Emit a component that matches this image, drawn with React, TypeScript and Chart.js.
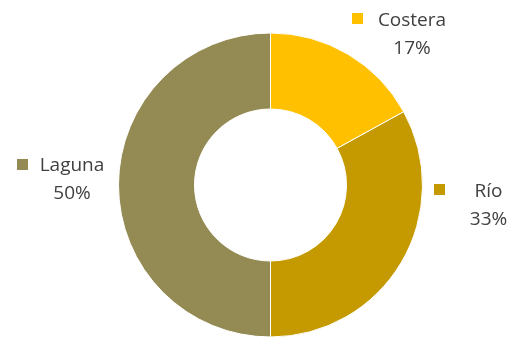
import React, { useEffect, useRef } from "react";
import { Chart, registerables } from "chart.js";

Chart.register(...registerables);

const categories = ["Costera", "Río", "Laguna"];
const values = [17, 33, 50];
const percentLabels = ["17%", "33%", "50%"];
const colors = ["#FFC000", "#C59A00", "#948A54"];

// label placement relative to doughnut centre: [nameCenterDx, nameBaselineDy, markerLeftDx, markerTopDy]
const labelLayout = [
  [141.5, -159, 81.5, -172],
  [218, 12, 163.5, -1],
  [-198.5, -14, -253.5, -26],
];

const labelPlugin = {
  id: "outsideLabels",
  afterDraw(chart: any) {
    const ctx = chart.ctx;
    const meta = chart.getDatasetMeta(0);
    ctx.save();
    ctx.font = '19px "Open Sans"';
    ctx.textAlign = "center";
    ctx.textBaseline = "alphabetic";
    meta.data.forEach((arc: any, i: number) => {
      const cx = arc.x;
      const cy = arc.y;
      const [nx, ny, mx, my] = labelLayout[i];
      ctx.fillStyle = colors[i];
      ctx.fillRect(cx + mx, cy + my, 11, 11);
      ctx.fillStyle = "#404040";
      ctx.fillText(categories[i], cx + nx, cy + ny);
      ctx.fillText(percentLabels[i], cx + nx, cy + ny + 28);
    });
    ctx.restore();
  },
};

export default function App() {
  const ref = useRef<HTMLCanvasElement>(null);
  useEffect(() => {
    document.body.style.margin = "0";
    const chart = new Chart(ref.current!, {
      type: "doughnut",
      data: {
        labels: categories,
        datasets: [
          {
            data: values,
            backgroundColor: colors,
            borderColor: "#FFFFFF",
            borderWidth: 1,
          },
        ],
      },
      options: {
        responsive: false,
        animation: false,
        cutout: "50%",
        layout: { padding: { left: 118, right: 92, top: 32, bottom: 0 } },
        plugins: { legend: { display: false }, tooltip: { enabled: false } },
      },
      plugins: [labelPlugin],
    });
    return () => chart.destroy();
  }, []);
  return (
    <div style={{ width: 515, height: 338, background: "#fff" }}>
      <canvas ref={ref} width={515} height={338} />
    </div>
  );
}
